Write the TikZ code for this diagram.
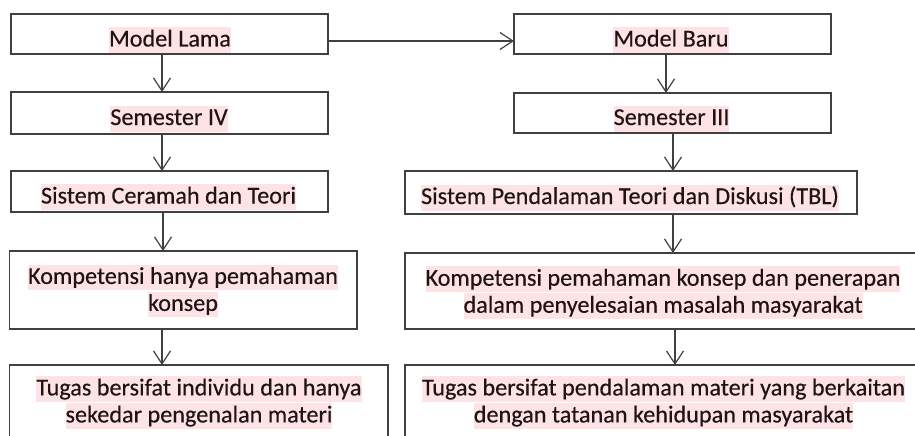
\documentclass[tikz,border=0pt]{standalone}
\usepackage{fontspec}
\setmainfont{Carlito}
\newfontfamily\lblfont{Carlito}[FakeBold=0.3]
\usetikzlibrary{arrows.meta}
\definecolor{hl}{HTML}{FDE3E5}
\definecolor{txt}{HTML}{1E1414}
\definecolor{ln}{HTML}{404040}
\newcommand{\hlt}[1]{{\setlength{\fboxsep}{0pt}\colorbox{hl}{\rule[-0.27em]{0pt}{1.07em}#1}}}
\tikzset{
  box/.style={draw=ln, line width=1.2pt, fill=white},
  lbl/.style={inner sep=0pt, text=txt, font=\lblfont\fontsize{24.2}{27}\selectfont, align=center},
  arr/.style={draw=ln, line width=1.2pt, -{Straight Barb[length=13pt,width=17pt,line width=1.2pt]}},
}
\begin{document}
\begin{tikzpicture}[x=1pt,y=-1pt]
\useasboundingbox (0,0) rectangle (915,436);
\fill[white] (0,0) rectangle (915,436);
\clip (0,0) rectangle (915,436);
% boxes
\draw[box] (11,14) rectangle (328,54) node[midway, inner sep=0pt] (lama) {};
\draw[box] (11,92) rectangle (328,134) node[midway, inner sep=0pt] (sem4) {};
\draw[box] (11,171) rectangle (328,212) node[midway, inner sep=0pt] (ceramah) {};
\draw[box] (9.5,251) rectangle (357,329) node[midway, inner sep=0pt] (komp1) {};
\draw[box] (9.5,365) rectangle (388,470) node[midway, inner sep=0pt] (tugas1) {};
\draw[box] (514,14) rectangle (831,54) node[midway, inner sep=0pt] (baru) {};
\draw[box] (514,93) rectangle (831,133) node[midway, inner sep=0pt] (sem3) {};
\draw[box] (405,171) rectangle (857,214) node[midway, inner sep=0pt] (pend) {};
\draw[box] (405,253) rectangle (925,329) node[midway, inner sep=0pt] (komp2) {};
\draw[box] (405,365) rectangle (925,470) node[midway, inner sep=0pt] (tugas2) {};
% named anchor points on box edges
\coordinate (lamaS) at (162,54);   \coordinate (sem4N) at (162,92);
\coordinate (sem4S) at (162,134);  \coordinate (ceramahN) at (162,171);
\coordinate (ceramahS) at (163,212); \coordinate (komp1N) at (163,251);
\coordinate (komp1S) at (162,329); \coordinate (tugas1N) at (162,365);
\coordinate (baruS) at (666,54);   \coordinate (sem3N) at (666,93);
\coordinate (sem3S) at (673,133);  \coordinate (pendN) at (673,171);
\coordinate (pendS) at (673,214);  \coordinate (komp2N) at (673,253);
\coordinate (komp2S) at (675,329); \coordinate (tugas2N) at (675,365);
\coordinate (lamaE) at (328,41);   \coordinate (baruW) at (514,41);
% texts
\node[lbl, anchor=base] (tlama) at (170,46.5) {\hlt{Model Lama}};
\node[lbl, anchor=base] (tsem4) at (169,125) {\hlt{Semester IV}};
\node[lbl, anchor=base] (tceramah) at (168.5,203.5) {\hlt{Sistem Ceramah dan Teori}};
\node[lbl] (tkomp1) at (183,291) {\hlt{Kompetensi hanya pemahaman}\\\hlt{konsep}};
\node[lbl] (ttugas1) at (199,402.5) {\hlt{Tugas bersifat individu dan hanya}\\\hlt{sekedar pengenalan materi}};
\node[lbl, anchor=base] (tbaru) at (671,46.5) {\hlt{Model Baru}};
\node[lbl, anchor=base] (tsem3) at (671.5,125) {\hlt{Semester III}};
\node[lbl, anchor=base] (tpend) at (630,204) {\hlt{Sistem Pendalaman Teori dan Diskusi (TBL)}};
\node[lbl] (tkomp2) at (663,292.8) {\hlt{Kompetensi pemahaman konsep dan penerapan}\\\hlt{dalam penyelesaian masalah masyarakat}};
\node[lbl] (ttugas2) at (663.5,402.5) {\hlt{Tugas bersifat pendalaman materi yang berkaitan}\\\hlt{dengan tatanan kehidupan masyarakat}};
% connectors
\draw[arr] (lamaS) -- (sem4N);
\draw[arr] (sem4S) -- (ceramahN);
\draw[arr] (ceramahS) -- (komp1N);
\draw[arr] (komp1S) -- (tugas1N);
\draw[arr] (baruS) -- (sem3N);
\draw[arr] (sem3S) -- (pendN);
\draw[arr] (pendS) -- (komp2N);
\draw[arr] (komp2S) -- (tugas2N);
\draw[arr] (lamaE) -- (baruW);
\end{tikzpicture}
\end{document}
